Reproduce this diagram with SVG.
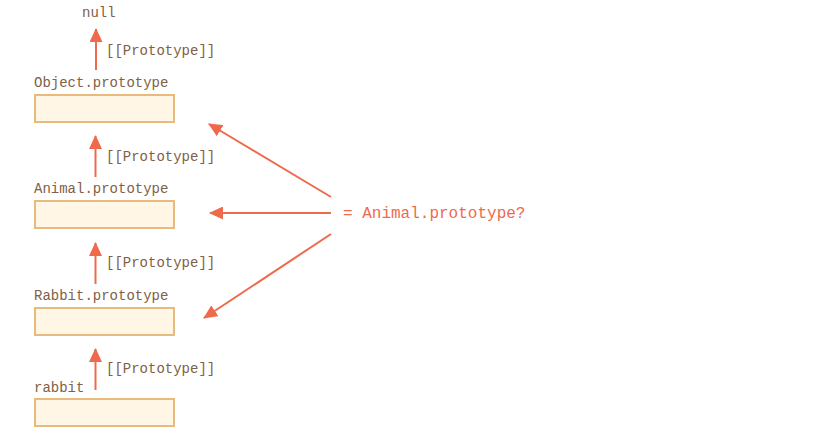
<svg xmlns="http://www.w3.org/2000/svg" width="837" height="441" viewBox="0 0 837 441">
<defs>
<style>
.t{font-family:"Liberation Mono","DejaVu Sans Mono",monospace;font-size:14px;fill:#7E6146}
.q{font-family:"Liberation Mono","DejaVu Sans Mono",monospace;font-size:16px;fill:#EF6A4C}
.box{fill:#FFF6E6;stroke:#E9BA7D;stroke-width:2}
.ln{stroke:#EF6A4C;stroke-width:2;fill:none}
</style>
<marker id="ah" viewBox="0 0 14 13" refX="13" refY="6.5" markerWidth="14" markerHeight="13" markerUnits="userSpaceOnUse" orient="auto">
<path d="M0,0 L14,6.5 L0,13 Z" fill="#EF6A4C"/>
</marker>
</defs>
<rect width="837" height="441" fill="#FFFFFF"/>
<g id="null"><text class="t" x="82" y="17">null</text></g>
<g id="object-prototype">
<text class="t" x="34" y="87">Object.prototype</text>
<rect class="box" x="35" y="95" width="139" height="27"/>
</g>
<g id="animal-prototype">
<text class="t" x="34" y="193">Animal.prototype</text>
<rect class="box" x="35" y="201" width="139" height="27"/>
</g>
<g id="rabbit-prototype">
<text class="t" x="34" y="300">Rabbit.prototype</text>
<rect class="box" x="35" y="308" width="139" height="27"/>
</g>
<g id="rabbit">
<text class="t" x="34" y="392">rabbit</text>
<rect class="box" x="35" y="399" width="139" height="27"/>
</g>
<g id="question"><text class="q" x="343" y="218">= Animal.prototype?</text></g>
<g id="connectors">
<line class="ln" x1="96" y1="70" x2="96" y2="29" marker-end="url(#ah)"/>
<line class="ln" x1="95.5" y1="177" x2="95.5" y2="136" marker-end="url(#ah)"/>
<line class="ln" x1="95.5" y1="284" x2="95.5" y2="243" marker-end="url(#ah)"/>
<line class="ln" x1="95.5" y1="390" x2="95.5" y2="349" marker-end="url(#ah)"/>
<line class="ln" x1="331" y1="197" x2="209" y2="124" marker-end="url(#ah)"/>
<line class="ln" x1="331" y1="213" x2="210" y2="213" marker-end="url(#ah)"/>
<line class="ln" x1="331" y1="234" x2="204" y2="318" marker-end="url(#ah)"/>
<text class="t" x="106" y="55">[[Prototype]]</text>
<text class="t" x="106" y="161">[[Prototype]]</text>
<text class="t" x="106" y="267">[[Prototype]]</text>
<text class="t" x="106" y="373">[[Prototype]]</text>
</g>
</svg>
